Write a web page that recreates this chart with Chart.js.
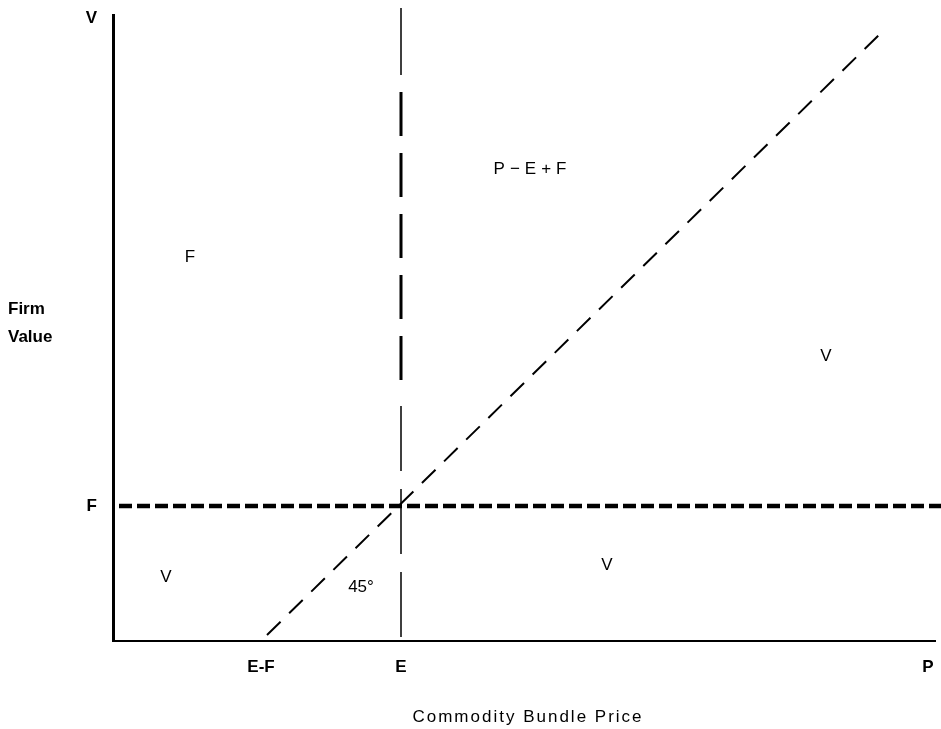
<!DOCTYPE html>
<html>
<head>
<meta charset="utf-8">
<script src="https://cdn.jsdelivr.net/npm/chart.js@4/dist/chart.umd.min.js"></script>
<style>
  html, body { margin: 0; background: #fff; }
</style>
</head>
<body>
<canvas id="c" width="941" height="729"></canvas>
<script>
/* ===== 數值（從圖上讀取，單位 ≈ 像素） ===== */
const X_MAX = 822, Y_MAX = 626;
const E = 288, F = 135, E_F = 148, P = 815, V_TOP = 623;

const xTicks = [E_F, E, P], xTickLbl = ['E-F', 'E', 'P'];
const yTicks = [F, V_TOP],  yTickLbl = ['F', 'V'];

// 線
const fLine = [{x: 6, y: F}, {x: 828, y: F}];          // F 水平虛線
const diag  = [{x: 154, y: 6}, {x: 772, y: 612}];      // 45° 虛線
const eTop  = [{x: E, y: 633}, {x: E, y: 566}];        // E 垂直線（上段）
const eMid  = [{x: E, y: 566}, {x: E, y: 253}];        // E 垂直線（中段）
const eLow  = [{x: E, y: 253}, {x: E, y: 0}];          // E 垂直線（下段）

// 區域標註
const noteTxt = ['F', 'P\u2212E+F', 'V', 'V', '45°', 'V'];
const noteX   = [77, 417, 713, 53, 248, 494];
const noteY   = [384, 472, 285, 64, 54, 76];

const INK = '#000';
const FONT = '"Liberation Sans", Arial, sans-serif';

const notes = {id: 'notes', afterDraw(c){
  const {ctx, scales: {x, y}, chartArea: a} = c;
  ctx.save();
  ctx.fillStyle = INK; ctx.textBaseline = 'middle';

  ctx.textAlign = 'center';
  ctx.font = `17px ${FONT}`;
  noteTxt.forEach((t, i) => {
    const sp = i === 1 ? 5 : 0;
    ctx.letterSpacing = sp + 'px';
    ctx.fillText(t, x.getPixelForValue(noteX[i]) + sp / 2, y.getPixelForValue(noteY[i]));
  });

  // 軸標題
  ctx.letterSpacing = '2px';
  ctx.fillText('Commodity Bundle Price', (a.left + a.right) / 2 + 4, a.bottom + 76);

  ctx.letterSpacing = '0px';
  ctx.textAlign = 'left';
  ctx.font = `bold 17px ${FONT}`;
  ctx.fillText('Firm', 8, 309);
  ctx.fillText('Value', 8, 337);
  ctx.restore();
}};

const line = (d, w, dash, off = 0) => ({data: d, showLine: true, borderColor: INK, borderWidth: w,
  borderDash: dash, borderDashOffset: off, borderCapStyle: 'butt', pointRadius: 0, clip: false});

new Chart(document.getElementById('c'), {
  type: 'scatter',
  data: {datasets: [
    line(fLine, 4.5, [13, 5]),
    line(diag, 2, [19, 12]),
    line(eTop, 1.5, []),
    line(eMid, 3, [44, 17], 44),
    line(eLow, 1.5, [65, 18], 65)
  ]},
  options: {
    responsive: false, animation: false,
    layout: {padding: {left: 0, right: 6, top: 15, bottom: 0}},
    plugins: {legend: {display: false}, tooltip: {enabled: false}},
    scales: {
      x: {type: 'linear', min: 0, max: X_MAX,
        grid: {display: false, drawTicks: false},
        border: {display: true, color: INK, width: 2},
        afterBuildTicks: s => { s.ticks = xTicks.map(v => ({value: v})); },
        afterFit: s => { s.height = 88; s.paddingLeft = 0; s.paddingRight = 0; },
        ticks: {autoSkip: false, maxRotation: 0, padding: 16, color: INK,
          font: {family: FONT, size: 17, weight: 'bold'},
          callback: v => xTickLbl[xTicks.indexOf(v)]}},
      y: {type: 'linear', min: 0, max: Y_MAX,
        grid: {display: false, drawTicks: false},
        border: {display: true, color: INK, width: 3},
        afterBuildTicks: s => { s.ticks = yTicks.map(v => ({value: v})); },
        afterFit: s => { s.width = 113; s.paddingTop = 0; s.paddingBottom = 0; },
        ticks: {autoSkip: false, padding: 16, color: INK,
          font: {family: FONT, size: 17, weight: 'bold'},
          callback: v => yTickLbl[yTicks.indexOf(v)]}}
    }
  },
  plugins: [notes]
});
</script>
</body>
</html>
